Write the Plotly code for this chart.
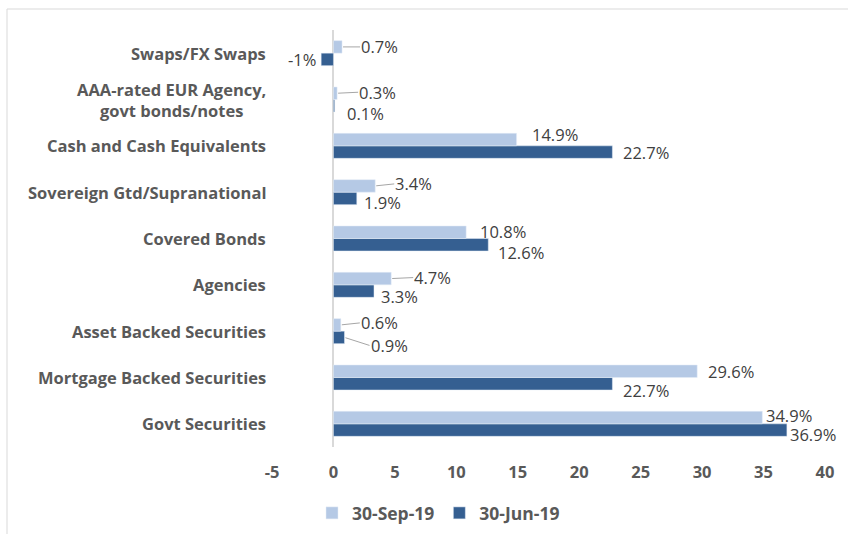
import plotly.graph_objects as go

# ---- data (bottom to top) ----
categories = ["Govt Securities", "Mortgage Backed Securities", "Asset Backed Securities",
              "Agencies", "Covered Bonds", "Sovereign Gtd/Supranational",
              "Cash and Cash Equivalents", "AAA-rated EUR Agency,<br>govt bonds/notes",
              "Swaps/FX Swaps"]
sep19 = [34.9, 29.6, 0.6, 4.7, 10.8, 3.4, 14.9, 0.3, 0.7]
jun19 = [36.9, 22.7, 0.9, 3.3, 12.6, 1.9, 22.7, 0.1, -1]
sep_labels = ["34.9%", "29.6%", "0.6%", "4.7%", "10.8%", "3.4%", "14.9%", "0.3%", "0.7%"]
jun_labels = ["36.9%", "22.7%", "0.9%", "3.3%", "12.6%", "1.9%", "22.7%", "0.1%", "-1%"]
x_ticks = [-5, 0, 5, 10, 15, 20, 25, 30, 35, 40]
x_tick_text = ["-5", "0", "5", "10", "15", "20", "25", "30", "35", "40"]

# ---- label placement (pixel offsets from bar end: dx, dy(down), leader line) ----
sep_off = [(3, -2, False), (10, 0, False), (19, -2, True), (22, -1, True), (13, -1, False),
           (19, -2, True), (14, -5, False), (21, -1, True), (18, 0, True)]
jun_off = [(2, 4, False), (10, 7, False), (25, 8, True), (6, 5, False), (9, 8, False),
           (6, 4, False), (10, 0, False), (11, 8, False), (-4, 0, False)]

LIGHT = "#b5c9e5"
DARK = "#355f91"
TXT = "#595959"
LBL = "#404040"
FONT = "Open Sans"

W, H = 848, 534
ML, MR, MT, MB = 272, 23, 30, 87
BARGAP = 0.46
plot_w = W - ML - MR
plot_h = H - MT - MB
band_px = plot_h / len(categories)
bar_off = (1 - BARGAP) / 4 * band_px

fig = go.Figure()
fig.add_trace(go.Bar(y=categories, x=jun19, orientation="h", name="30-Jun-19",
                     marker=dict(color=DARK), legendrank=2))
fig.add_trace(go.Bar(y=categories, x=sep19, orientation="h", name="30-Sep-19",
                     marker=dict(color=LIGHT), legendrank=1))

annotations = []
for vals, labs, offs, ysh in [(sep19, sep_labels, sep_off, bar_off),
                              (jun19, jun_labels, jun_off, -bar_off)]:
    for cat, v, lab, (dx, dy, leader) in zip(categories, vals, labs, offs):
        if leader:
            annotations.append(dict(
                x=v, y=cat, xref="x", yref="y", text=lab, showarrow=True,
                ax=dx, ay=dy, axref="pixel", ayref="pixel", yshift=ysh,
                xanchor="left", yanchor="middle", arrowhead=0, arrowwidth=1,
                arrowcolor="#a6a6a6", standoff=1, borderpad=0,
                font=dict(family=FONT, size=16.5, color=LBL)))
        else:
            annotations.append(dict(
                x=v, y=cat, xref="x", yref="y", text=lab, showarrow=False,
                xshift=dx, yshift=ysh - dy, borderpad=0,
                xanchor="left" if v >= 0 else "right", yanchor="middle",
                font=dict(family=FONT, size=16.5, color=LBL)))

for cat in categories:
    annotations.append(dict(
        x=-4 / plot_w, y=cat, xref="paper", yref="y", text=cat,
        showarrow=False, xanchor="right", yanchor="middle", align="center",
        font=dict(family=FONT, size=16.5, color=TXT, weight="bold")))

fig.update_layout(
    width=W, height=H,
    margin=dict(l=ML, r=MR, t=MT, b=MB, autoexpand=False),
    paper_bgcolor="white", plot_bgcolor="white",
    barmode="group", bargap=BARGAP, bargroupgap=0,
    showlegend=True,
    legend=dict(orientation="h", x=(312 - ML) / plot_w, xanchor="left",
                y=-66 / plot_h, yanchor="middle",
                font=dict(family=FONT, size=17.5, color=TXT, weight="bold"),
                itemwidth=30, traceorder="normal"),
    annotations=annotations,
    shapes=[dict(type="rect", xref="paper", yref="paper",
                 x0=(7 - ML) / plot_w, x1=1.2,
                 y0=-0.5, y1=1 + (MT - 9) / plot_h,
                 line=dict(color="#d9d9d9", width=1), layer="below")],
)
fig.update_xaxes(range=[-5, 40], tickvals=x_ticks, ticktext=x_tick_text, showgrid=False,
                 zeroline=True, zerolinecolor="#d9d9d9", zerolinewidth=2,
                 showline=False, ticks="", ticklabelstandoff=13, automargin=False,
                 tickfont=dict(family=FONT, size=16.5, color=TXT, weight="bold"))
fig.update_yaxes(categoryorder="array", categoryarray=categories,
                 showticklabels=False, showgrid=False, showline=False, ticks="",
                 zeroline=False, automargin=False)

fig.write_html("out.html", config={"displayModeBar": False},
               post_script="document.body.style.margin='0';")
